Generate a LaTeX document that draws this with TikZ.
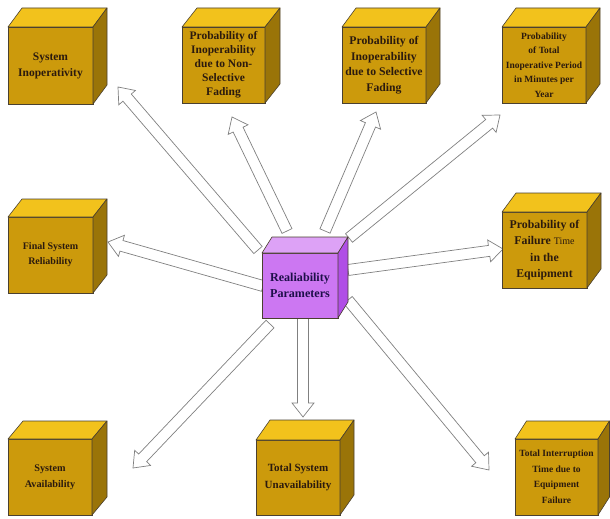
\documentclass[tikz,border=0pt]{standalone}
\usepackage{fontspec}
\setmainfont{Liberation Serif}
\usetikzlibrary{calc,backgrounds}

\definecolor{goldfront}{HTML}{CC9A0C}
\definecolor{goldtop}{HTML}{F2C21C}
\definecolor{goldside}{HTML}{9A7408}
\definecolor{edgecol}{HTML}{4A4030}
\definecolor{purfront}{HTML}{CC77F2}
\definecolor{purtop}{HTML}{DDA2F6}
\definecolor{purside}{HTML}{B04EE6}
\definecolor{txtcol}{HTML}{2B1A0E}
\definecolor{ctxtcol}{HTML}{1E0F4A}
\definecolor{arrowline}{HTML}{808080}

\tikzset{
  face/.style={draw=edgecol, line width=0.6pt, inner sep=0pt, outer sep=0pt,
    align=center, text=txtcol},
  goldcube/.style={face, fill=goldfront},
  purcube/.style={face, fill=purfront, text=ctxtcol},
  sideface/.style={draw=edgecol, line width=0.6pt, line join=round},
  blockarrow/.style={draw=arrowline, fill=white, line width=0.7pt, line join=miter},
}

% #1 node, #2 dx, #3 dy (upwards), #4 top colour, #5 side colour
\newcommand\cubefaces[5]{%
  \filldraw[sideface, fill=#4] (#1.north west) -- ++(#2,-#3)
     -- ($(#1.north east)+(#2,-#3)$) -- (#1.north east) -- cycle;
  \filldraw[sideface, fill=#5] (#1.north east) -- ($(#1.north east)+(#2,-#3)$)
     -- ($(#1.south east)+(#2,-#3)$) -- (#1.south east) -- cycle;
}

% #1 tail, #2 tip
\newcommand\blockarrowdraw[2]{%
  \coordinate (bah) at ($(#2)!14pt!(#1)$);
  \draw[blockarrow] ($(#1)!5.5pt!90:(#2)$) -- ($(bah)!5.5pt!-90:(#1)$)
    -- ($(bah)!11pt!-90:(#1)$) -- (#2) -- ($(bah)!11pt!90:(#1)$)
    -- ($(bah)!5.5pt!90:(#1)$) -- ($(#1)!5.5pt!-90:(#2)$) -- cycle;
}

\begin{document}
\begin{tikzpicture}[x=1pt,y=-1pt]
\useasboundingbox (0,0) rectangle (610,519);

% ---------- cubes ----------
\node[goldcube, minimum width=85pt, minimum height=77pt,
  font=\fontsize{11.5pt}{16pt}\selectfont\bfseries] (b1) at (50.5,65.5)
  {System\\Inoperativity};
\cubefaces{b1}{14}{19}{goldtop}{goldside}

\node[goldcube, minimum width=83pt, minimum height=76pt,
  font=\fontsize{11.5pt}{14pt}\selectfont\bfseries] (b2) at (223.5,65)
  {Probability of\\Inoperability\\due to Non-\\Selective\\Fading};
\cubefaces{b2}{15}{19}{goldtop}{goldside}

\node[goldcube, minimum width=84pt, minimum height=76pt,
  font=\fontsize{11.7pt}{15.5pt}\selectfont\bfseries] (b3) at (384,65)
  {Probability of\\Inoperability\\due to Selective\\Fading};
\cubefaces{b3}{14}{19}{goldtop}{goldside}

\node[goldcube, minimum width=84pt, minimum height=76pt,
  font=\fontsize{9.5pt}{14.5pt}\selectfont\bfseries] (b4) at (544,65)
  {Probability\\of Total\\Inoperative Period\\in Minutes per\\Year};
\cubefaces{b4}{14}{19}{goldtop}{goldside}

\node[goldcube, minimum width=85pt, minimum height=76pt,
  font=\fontsize{10pt}{15pt}\selectfont\bfseries] (b5) at (50.5,255)
  {Final System\\Reliability};
\cubefaces{b5}{14}{18}{goldtop}{goldside}

\node[goldcube, minimum width=85pt, minimum height=76pt,
  font=\fontsize{11.8pt}{16.5pt}\selectfont\bfseries] (b6) at (544.5,250)
  {Probability of\\Failure {\mdseries\fontsize{10pt}{16.5pt}\selectfont Time}\\in the\\Equipment};
\cubefaces{b6}{14}{19}{goldtop}{goldside}

\node[goldcube, minimum width=84pt, minimum height=76pt,
  font=\fontsize{10.2pt}{16pt}\selectfont\bfseries] (b7) at (50,477)
  {System\\Availability};
\cubefaces{b7}{15}{18}{goldtop}{goldside}

\node[goldcube, minimum width=84pt, minimum height=75pt,
  font=\fontsize{11pt}{17pt}\selectfont\bfseries] (b8) at (298,477.5)
  {Total System\\Unavailability};
\cubefaces{b8}{14}{20}{goldtop}{goldside}

\node[goldcube, minimum width=83pt, minimum height=76pt,
  font=\fontsize{9.5pt}{15.5pt}\selectfont\bfseries] (b9) at (556.5,477)
  {Total Interruption\\Time due to\\Equipment\\Failure};
\cubefaces{b9}{11.5}{18}{goldtop}{goldside}

\node[purcube, minimum width=76pt, minimum height=65pt,
  font=\fontsize{12.1pt}{16.5pt}\selectfont\bfseries] (c) at (300,285.5)
  {Realiability\\Parameters};
\cubefaces{c}{10}{16}{purtop}{purside}

% ---------- arrows ----------
\coordinate (a1s) at (258,250); \coordinate (a1e) at (118,87);
\coordinate (a2s) at (287,231); \coordinate (a2e) at (232,117);
\coordinate (a3s) at (325,231); \coordinate (a3e) at (376,112);
\coordinate (a4s) at (349,238); \coordinate (a4e) at (500,115);
\coordinate (a5s) at (263,286); \coordinate (a5e) at (108,242);
\coordinate (a6s) at (348,270); \coordinate (a6e) at (503,249);
\coordinate (a7s) at (270,324); \coordinate (a7e) at (133,468);
\coordinate (a8s) at (303,318); \coordinate (a8e) at (303,417);
\coordinate (a9s) at (348,300); \coordinate (a9e) at (489,470);

\begin{pgfonlayer}{background}
\blockarrowdraw{a1s}{a1e}
\blockarrowdraw{a2s}{a2e}
\blockarrowdraw{a3s}{a3e}
\blockarrowdraw{a4s}{a4e}
\blockarrowdraw{a5s}{a5e}
\blockarrowdraw{a6s}{a6e}
\blockarrowdraw{a7s}{a7e}
\blockarrowdraw{a8s}{a8e}
\blockarrowdraw{a9s}{a9e}
\end{pgfonlayer}
\end{tikzpicture}
\end{document}
